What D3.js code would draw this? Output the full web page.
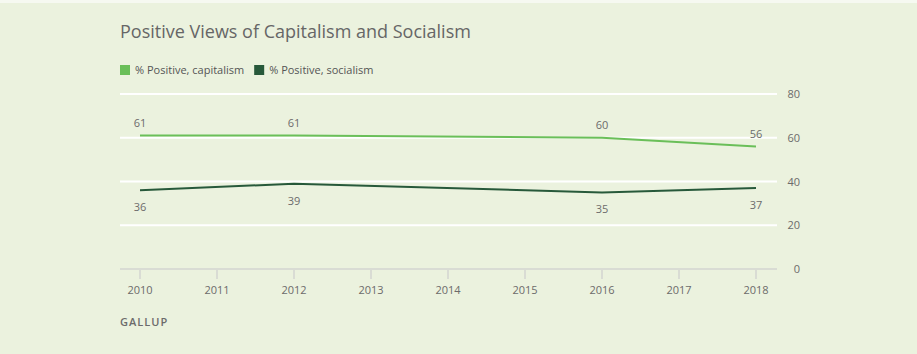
<!DOCTYPE html>
<html>
<head>
<meta charset="utf-8">
<script src="https://cdn.jsdelivr.net/npm/d3@7"></script>
<style>
  html, body { margin: 0; padding: 0; background: #ebf2de; }
  svg { display: block; font-family: "Open Sans", "Liberation Sans", sans-serif; }
</style>
</head>
<body>
<svg id="chart" width="917" height="354"></svg>
<script>
const years = [2010, 2012, 2016, 2018]
const capitalism = [61, 61, 60, 56]
const socialism = [36, 39, 35, 37]
const xTicks = [2010, 2011, 2012, 2013, 2014, 2015, 2016, 2017, 2018]
const yTicks = [0, 20, 40, 60, 80]
const seriesNames = ['% Positive, capitalism', '% Positive, socialism']
const colors = ['#6abf59', '#27593a']

const svg = d3.select('#chart')
const textColor = '#6b6b6b'

svg.append('rect').attr('width', 917).attr('height', 354).attr('fill', '#ebf2de')
svg.append('rect').attr('width', 917).attr('height', 3).attr('fill', '#f6f9f1')

const x = d3.scaleLinear().domain([2010, 2018]).range([140, 756])
const y = d3.scaleLinear().domain([0, 80]).range([269, 94])

// title
svg.append('text')
  .attr('x', 120).attr('y', 38)
  .attr('font-size', 18).attr('fill', '#666')
  .text('Positive Views of Capitalism and Socialism')

// legend
let lx = 120
seriesNames.forEach((name, i) => {
  svg.append('rect').attr('x', lx).attr('y', 65).attr('width', 10).attr('height', 10).attr('fill', colors[i])
  const t = svg.append('text').attr('x', lx + 15).attr('y', 74)
    .attr('font-size', 11).attr('fill', '#555').text(name)
  lx += 15 + t.node().getComputedTextLength() + 10
})

// gridlines
svg.append('g').selectAll('line')
  .data(yTicks.filter(d => d > 0))
  .join('line')
  .attr('x1', 120).attr('x2', 777)
  .attr('y1', d => y(d)).attr('y2', d => y(d))
  .attr('stroke', '#fff').attr('stroke-width', 2)

// right axis labels
svg.append('g').selectAll('text')
  .data(yTicks)
  .join('text')
  .attr('x', 800).attr('y', d => y(d) + 4)
  .attr('text-anchor', 'end')
  .attr('font-size', 11).attr('fill', textColor)
  .text(d => d)

// x axis
svg.append('line')
  .attr('x1', 120).attr('x2', 777).attr('y1', y(0)).attr('y2', y(0))
  .attr('stroke', '#d9dcd4').attr('stroke-width', 2)
svg.append('g').selectAll('line')
  .data(xTicks)
  .join('line')
  .attr('x1', d => x(d)).attr('x2', d => x(d))
  .attr('y1', y(0)).attr('y2', y(0) + 10)
  .attr('stroke', '#d9dcd4').attr('stroke-width', 2)
svg.append('g').selectAll('text')
  .data(xTicks)
  .join('text')
  .attr('x', d => x(d)).attr('y', 294)
  .attr('text-anchor', 'middle')
  .attr('font-size', 11).attr('fill', textColor)
  .text(d => d)

// lines
const line = d3.line().x(d => x(d[0])).y(d => y(d[1]))
;[capitalism, socialism].forEach((vals, i) => {
  const pts = years.map((yr, j) => [yr, vals[j]])
  svg.append('path')
    .attr('d', line(pts))
    .attr('fill', 'none')
    .attr('stroke', colors[i])
    .attr('stroke-width', 2)
  svg.append('g').selectAll('text')
    .data(pts)
    .join('text')
    .attr('x', d => x(d[0]))
    .attr('y', d => i === 0 ? y(d[1]) - 9 : y(d[1]) + 21)
    .attr('text-anchor', 'middle')
    .attr('font-size', 11).attr('fill', textColor)
    .text(d => d[1])
})

// source
svg.append('text')
  .attr('x', 120).attr('y', 326)
  .attr('font-size', 11).attr('font-weight', 600)
  .attr('letter-spacing', 1)
  .attr('fill', '#6b6b6b')
  .text('GALLUP')
</script>
</body>
</html>
